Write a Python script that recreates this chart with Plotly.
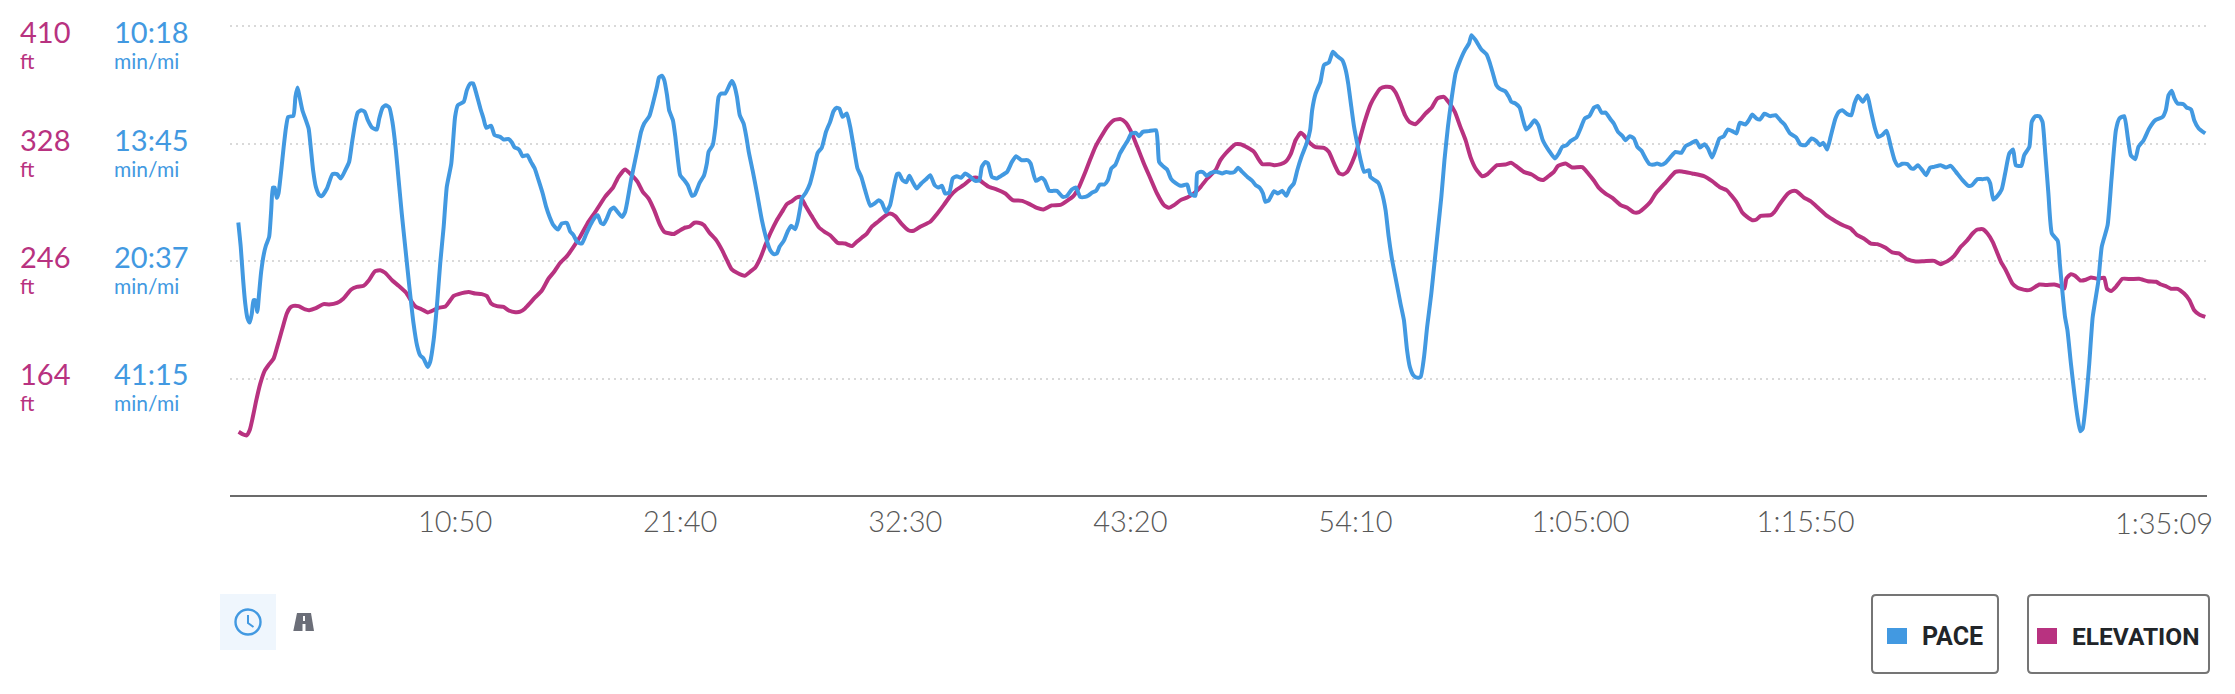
import plotly.graph_objects as go

# ---- axis labels -------------------------------------------------------
x_tick_seconds = [650, 1300, 1950, 2600, 3250, 3900, 4550]
x_tick_labels = ["10:50", "21:40", "32:30", "43:20", "54:10", "1:05:00", "1:15:50"]
x_end_seconds = 5709
x_end_label = "1:35:09"
elev_ticks = [410, 328, 246, 164]
elev_labels = ["410", "328", "246", "164"]
pace_ticks_mph = [5.825, 4.369, 2.913, 1.456]
pace_labels = ["10:18", "13:45", "20:37", "41:15"]

# ---- series ------------------------------------------------------------
pace_time = [
 24,31,38,44,50,57,63,68,73,79,84,90,98,104,113,119,124,129,135,140,148,155,162,168,183,189,195,200,209,227,233,240,248,258,265,280,296,309,320,333,344,352,362,369,379,389,398,410,424,431,441,450,460,469,479,487,496,507,518,530,540,549,559,571,578,588,598,607,617,626,639,650,658,675,684,694,702,710,723,732,740,754,764,780,790,805,814,822,
 830,836,845,859,869,880,891,903,913,923,934,947,958,973,982,992,1002,1016,1029,1043,1055,1062,1071,1079,1088,1098,1108,1119,1132,1141,1148,1158,1170,1180,1187,1196,1211,1220,1233,1239,1247,1254,1262,1268,1279,1286,1293,1300,1312,1322,1334,1342,1356,1369,1377,1382,1394,1402,1411,1418,1430,1440,1449,1456,1464,1472,1483,1491,1498,1509,1522,1536,1550,1560,1570,1579,1587,1599,1610,1620,1632,1639,1647,
 1651,1663,1675,1685,1697,1709,1721,1733,1743,1752,1760,1769,1781,1791,1801,1812,1823,1834,1849,1861,1873,1882,1894,1906,1916,1926,1932,1942,1953,1962,1971,1983,1996,2009,2022,2035,2046,2056,2065,2077,2087,2099,2111,2123,2138,2152,2164,2171,2181,2189,2200,2213,2227,2244,2258,2270,2285,2304,2312,2327,2343,2352,2366,2378,2388,2405,2417,2431,2443,2455,2470,
 2480,2490,2501,2512,2525,2535,2545,2557,2570,2581,2593,2603,2616,2625,2636,2653,2674,2679,2683,2694,2706,2718,2730,2745,2764,2772,2788,2793,2801,2810,2820,2833,2851,2865,2877,2889,2901,2911,2923,2938,2952,2962,2973,2983,2990,3000,3015,3026,3039,3050,3060,3072,3082,3094,3109,3119,3125,3135,3149,3159,3173,3185,3197,3212,3222,3229,3238,3246,3255,3265,3275,3289,
 3293,3303,3316,3327,3337,3346,3356,3368,3380,3390,3399,3407,3417,3428,3438,3448,3457,3469,3478,3488,3498,3507,3517,3527,3539,3549,3566,3578,3585,3597,3613,3628,3637,3647,3657,3667,3682,3693,3700,3712,3724,3734,3743,3756,3767,3778,3791,3809,3826,3838,3847,3860,3871,3888,3900,3912,3926,3939,3950,3961,3972,3987,3996,4008,4021,4030,4042,4054,4064,4076,4088,4099,4112,
 4121,4133,4145,4160,4174,4191,4203,4218,4234,4245,4258,4268,4280,4292,4301,4314,4325,4338,4350,4360,4376,4386,4396,4408,4418,4431,4447,4463,4478,4489,4505,4523,4535,4550,4567,4581,4591,4601,4612,4622,4636,4646,4656,4670,4682,4691,4701,4715,4728,4738,4749,4759,4771,4784,4795,4807,4817,4829,4844,4855,4863,4874,4887,4898,4909,4921,4940,
 4955,4969,4984,5003,5020,5030,5046,5061,5075,5083,5092,5104,5116,5126,5138,5149,5157,5173,5181,5196,5203,5213,5225,5234,5242,5251,5261,5278,5284,5292,5299,5306,5316,5326,5335,5343,5350,5359,5369,5379,5395,5405,5422,5433,5446,5456,5470,5480,5489,5502,5511,5526,5542,5560,5581,5590,5598,5607,5615,5624,5641,5650,5663,5672,5685,5704,
]
pace_mph = [
 3.389,3.088,2.674,2.385,2.211,2.149,2.261,2.426,2.426,2.282,2.509,2.778,3.005,3.108,3.212,3.542,3.823,3.823,3.695,3.749,4.038,4.327,4.575,4.699,4.712,4.947,5.063,4.968,4.782,4.555,4.327,4.038,3.831,3.728,3.716,3.811,3.989,3.989,3.935,4.038,4.141,4.369,4.637,4.753,4.782,4.761,4.658,4.567,4.542,4.679,4.815,4.844,4.815,4.637,4.286,3.914,3.501,3.046,2.592,2.137,1.868,1.744,1.703,1.600,1.662,1.930,2.385,2.881,3.336,3.831,4.121,4.699,4.844,4.885,5.030,5.113,5.113,5.009,4.803,4.679,4.563,4.588,4.472,4.451,4.418,4.423,4.381,4.319,
 4.307,4.286,4.212,4.224,4.141,4.059,3.914,3.749,3.583,3.459,3.356,3.302,3.377,3.385,3.282,3.232,3.150,3.129,3.253,3.377,3.459,3.480,3.385,3.369,3.439,3.542,3.575,3.521,3.459,3.521,3.666,3.914,4.162,4.369,4.513,4.617,4.708,4.844,5.071,5.187,5.208,5.154,4.968,4.782,4.658,4.451,4.183,3.976,3.914,3.852,3.720,3.736,3.881,3.976,4.121,4.265,4.348,4.575,4.947,4.989,4.989,5.071,5.142,5.092,4.947,4.720,4.617,4.451,4.265,4.038,3.749,3.418,3.170,3.046,2.997,3.005,3.088,3.162,3.274,3.348,3.307,3.398,3.583,
 3.687,3.761,3.873,4.038,4.253,4.319,4.513,4.637,4.770,4.811,4.799,4.699,4.741,4.575,4.327,4.059,3.955,3.790,3.596,3.625,3.666,3.637,3.521,3.604,3.811,3.989,3.997,3.914,3.889,3.968,3.894,3.811,3.873,3.922,3.976,3.852,3.823,3.844,3.749,3.761,3.935,3.964,3.943,3.997,3.955,3.906,3.914,4.079,4.141,4.121,3.955,3.935,3.968,4.017,4.141,4.212,4.162,4.162,4.121,3.906,3.943,3.914,3.782,3.782,3.782,3.707,3.720,3.798,3.823,3.707,3.707,
 3.728,3.761,3.782,3.860,3.860,3.914,4.059,4.108,4.245,4.327,4.410,4.493,4.501,4.460,4.513,4.522,4.534,4.369,4.141,4.088,4.046,3.927,3.881,3.844,3.860,3.749,3.720,3.997,4.017,4.013,3.968,4.005,4.017,3.997,4.017,4.005,4.017,4.067,4.017,3.955,3.906,3.852,3.823,3.749,3.646,3.666,3.778,3.749,3.782,3.720,3.811,3.873,4.038,4.203,4.369,4.534,4.782,4.989,5.133,5.340,5.373,5.505,5.452,5.402,5.278,5.113,4.823,4.575,4.369,4.162,4.017,4.038,
 3.955,3.922,3.881,3.749,3.542,3.212,2.922,2.654,2.385,2.178,1.806,1.600,1.496,1.467,1.476,1.724,2.096,2.509,2.881,3.294,3.707,4.162,4.575,4.906,5.237,5.361,5.526,5.609,5.712,5.650,5.538,5.476,5.381,5.237,5.092,5.047,5.018,4.947,4.885,4.865,4.815,4.658,4.542,4.596,4.658,4.596,4.410,4.278,4.183,4.253,4.327,4.348,4.398,4.443,4.555,4.679,4.712,4.815,4.832,4.749,4.753,4.666,4.617,4.513,4.460,4.410,4.460,4.431,4.327,4.278,4.183,4.113,4.108,
 4.121,4.104,4.129,4.203,4.265,4.253,4.336,4.369,4.402,4.319,4.361,4.307,4.195,4.327,4.431,4.460,4.542,4.522,4.493,4.625,4.604,4.658,4.728,4.679,4.666,4.737,4.708,4.720,4.650,4.604,4.493,4.443,4.356,4.348,4.431,4.398,4.348,4.377,4.294,4.451,4.679,4.761,4.782,4.733,4.720,4.865,4.960,4.885,4.968,4.782,4.575,4.451,4.472,4.526,4.348,4.162,4.092,4.117,4.113,4.059,4.059,4.100,4.038,3.976,4.067,4.079,4.100,
 4.071,4.092,4.017,3.914,3.844,3.852,3.927,3.927,3.935,3.873,3.674,3.720,3.798,3.997,4.245,4.294,4.100,4.092,4.224,4.327,4.637,4.708,4.708,4.637,4.245,3.749,3.253,3.162,2.881,2.509,2.220,2.054,1.641,1.269,0.980,0.802,0.835,1.145,1.641,2.220,2.654,3.088,3.356,3.914,4.534,4.679,4.708,4.451,4.224,4.175,4.327,4.410,4.555,4.658,4.699,4.782,4.968,5.022,4.927,4.865,4.856,4.815,4.790,4.658,4.555,4.493,
]
elev_time = [
 25,36,48,57,65,75,87,100,111,126,135,150,164,174,183,198,217,229,248,270,286,309,328,350,366,386,400,419,434,448,468,487,508,525,537,554,571,588,602,622,633,646,660,689,708,727,742,754,771,790,805,824,
 838,852,867,881,900,920,936,952,973,992,1011,1032,1055,1083,1106,1122,1141,1160,1177,1192,1209,1225,1242,1254,1281,1300,1315,1326,1341,1353,1369,1384,1404,1421,1435,1449,1464,1486,1502,1517,1531,1546,1560,1579,1594,1608,1623,1635,1647,
 1661,1680,1701,1717,1733,1755,1776,1796,1810,1825,1839,1853,1873,1894,1906,1921,1940,1959,1974,1993,2022,2041,2061,2080,2099,2118,2142,2157,2171,2191,2215,2239,2260,2287,2306,2330,2349,2373,2398,2417,2436,2451,2470,
 2485,2499,2514,2533,2552,2572,2586,2600,2620,2639,2658,2677,2697,2711,2726,2745,2764,2783,2803,2822,2846,2860,2875,2889,2904,2918,2938,2957,2971,2981,3003,3015,3034,3048,3063,3077,3092,3101,3120,3135,3159,3173,3188,3202,3214,3226,3241,3255,3275,3294,
 3308,3322,3337,3354,3366,3380,3393,3406,3423,3438,3452,3470,3486,3505,3520,3537,3553,3568,3582,3597,3616,3631,3645,3659,3683,3700,3717,3736,3759,3780,3794,3809,3823,3835,3857,3876,3905,3922,3939,3953,3972,3992,4016,4035,4054,4069,4088,4102,4117,
 4145,4174,4193,4222,4256,4280,4304,4322,4350,4367,4381,4396,4408,4420,4449,4460,4473,4499,4511,4523,4545,4564,4588,4612,4636,4661,4680,4699,4718,4738,4757,4781,4800,4819,4844,4868,4892,4921,4940,
 4945,4960,4979,4998,5017,5032,5046,5061,5075,5090,5104,5114,5128,5147,5162,5186,5200,5225,5244,5268,5282,5297,5303,5316,5328,5343,5359,5374,5393,5412,5420,5432,5446,5465,5489,5513,5538,5562,5576,5590,5605,5624,5643,5658,5672,5687,5704,
]
elev_ft = [
 126.8,125.2,124.3,128.0,136.1,147.8,160.1,169.4,173.3,178.0,185.0,197.8,209.4,213.6,214.7,214.5,212.2,211.7,213.1,215.9,215.7,216.8,219.9,226.1,228.0,228.7,232.2,238.9,239.6,237.8,232.6,228.7,224.0,217.5,214.0,212.2,210.1,211.7,213.3,214.3,217.5,221.7,222.9,224.3,223.3,222.9,221.5,216.4,214.5,214.0,211.5,210.3,
 210.6,212.9,216.8,220.6,225.2,233.8,238.5,244.3,249.4,255.9,262.9,272.2,280.3,290.8,297.3,304.8,309.9,305.9,301.2,294.3,289.6,281.5,271.0,266.4,264.8,267.5,269.4,269.9,272.7,272.7,271.0,265.9,260.6,253.6,246.6,240.1,237.8,235.7,238.5,241.5,247.8,257.1,265.2,274.5,280.3,285.7,287.8,290.1,290.8,
 285.0,277.3,269.4,266.4,264.0,258.7,258.2,256.4,259.4,262.4,265.2,269.9,273.8,278.0,279.2,277.3,271.7,267.5,267.1,269.9,273.4,278.7,285.0,291.5,295.9,298.9,303.6,304.1,301.2,297.8,295.9,293.1,288.5,288.0,286.1,283.1,282.0,284.8,285.2,288.0,291.5,297.3,308.2,
 317.5,325.7,332.2,339.6,344.3,345.0,342.7,337.3,325.7,314.1,303.6,293.1,285.0,283.1,285.0,288.5,290.3,293.1,297.8,303.6,309.4,316.4,321.0,324.5,327.5,327.5,325.2,322.2,316.8,313.6,313.6,312.9,313.6,315.2,320.6,330.3,335.5,333.8,328.0,325.5,325.0,322.2,314.1,307.5,306.4,308.2,315.2,324.5,342.0,355.5,
 361.7,366.4,367.6,367.1,363.6,355.9,347.8,343.1,341.5,344.8,348.9,352.9,359.4,360.6,356.6,350.1,339.6,330.3,318.7,310.6,305.2,306.6,309.9,312.9,313.4,314.5,311.7,308.2,306.4,303.1,302.7,305.5,308.2,312.4,314.1,311.3,311.5,307.1,302.0,297.1,293.1,290.1,285.0,283.1,279.9,280.1,283.8,287.3,293.1,
 300.6,308.2,308.5,307.1,305.2,301.7,297.3,295.4,287.3,279.9,276.8,274.5,275.0,277.5,278.0,280.3,285.0,293.1,294.8,294.8,290.3,287.8,282.7,277.5,273.8,270.6,268.7,264.0,261.7,258.2,257.8,255.2,252.0,251.3,247.1,245.7,245.9,246.1,243.8,
 244.3,245.9,249.6,255.9,260.6,265.2,268.0,268.2,265.2,259.4,251.3,245.4,239.6,230.3,227.3,225.7,226.1,229.6,229.2,229.6,228.7,226.8,233.8,236.8,235.7,232.4,232.9,234.5,233.6,234.3,226.8,225.0,228.0,233.6,233.4,233.6,231.9,231.5,229.6,228.5,226.6,226.6,223.3,218.8,211.7,208.6,207.0,
]
assert len(pace_time) == len(pace_mph), (len(pace_time), len(pace_mph))
assert len(elev_time) == len(elev_ft), (len(elev_time), len(elev_ft))

# ---- style -------------------------------------------------------------
W, H = 2235, 694
L, R, T, B = 230, 2207, 16, 495
BLUE, PINK = "#4299e1", "#b83280"
FONT = "Lato"
LEGEND_FONT = "Roboto"
AXIS_TEXT = "#585858"

def px(x):
    return (x - L) / (R - L)

def py(y):
    return 1 - (y - T) / (B - T)

fig = go.Figure()
fig.add_trace(go.Scatter(x=pace_time, y=pace_mph, name="PACE", yaxis="y2", mode="lines",
                         line=dict(color=BLUE, width=4, shape="spline", smoothing=0.5),
                         hoverinfo="skip"))
fig.add_trace(go.Scatter(x=elev_time, y=elev_ft, name="ELEVATION", yaxis="y", mode="lines",
                         line=dict(color=PINK, width=4, shape="spline", smoothing=0.5),
                         hoverinfo="skip"))

annotations = []
label_shift = [-5, 4.5, 4.5, 5]
for value, mph, elev_text, pace_text, shift in zip(elev_ticks, pace_ticks_mph, elev_labels, pace_labels, label_shift):
    for xpos, main, unit, color in ((20, elev_text, "ft", PINK), (114, pace_text, "min/mi", BLUE)):
        annotations.append(dict(xref="paper", yref="y", x=px(xpos), y=value, text=main, showarrow=False,
                                xanchor="left", yanchor="middle", yshift=shift, borderpad=0, borderwidth=0,
                                font=dict(family=FONT, size=29, color=color)))
        annotations.append(dict(xref="paper", yref="y", x=px(xpos), y=value, text=unit, showarrow=False,
                                xanchor="left", yanchor="middle", yshift=shift - 29, borderpad=0, borderwidth=0,
                                font=dict(family=FONT, size=21, color=color)))

annotations.append(dict(xref="x", yref="paper", x=x_end_seconds, y=0, text=x_end_label, showarrow=False,
                        xanchor="right", yanchor="top", xshift=8, yshift=-8,
                        font=dict(family=FONT, size=29, color=AXIS_TEXT, weight=300)))
annotations.append(dict(xref="paper", yref="paper", x=px(1921), y=py(636), text="<b>PACE</b>", showarrow=False,
                        xanchor="left", yanchor="middle", borderpad=0,
                        font=dict(family=LEGEND_FONT, size=25, color="#212529")))
annotations.append(dict(xref="paper", yref="paper", x=px(2071), y=py(636), text="<b>ELEVATION</b>", showarrow=False,
                        xanchor="left", yanchor="middle", borderpad=0,
                        font=dict(family=LEGEND_FONT, size=24.5, color="#212529")))

def rect(x0, y0, x1, y1, **kw):
    return dict(type="rect", xref="paper", yref="paper", x0=px(x0), x1=px(x1), y0=py(y0), y1=py(y1), **kw)

def path(points, close=True, **kw):
    d = "M " + " L ".join(f"{px(a):.5f} {py(b):.5f}" for a, b in points) + (" Z" if close else "")
    return dict(type="path", xref="paper", yref="paper", path=d, **kw)

def rrect(x0, y0, x1, y1, r, **kw):
    d = (f"M {px(x0+r):.5f} {py(y0):.5f} L {px(x1-r):.5f} {py(y0):.5f} "
         f"Q {px(x1):.5f} {py(y0):.5f} {px(x1):.5f} {py(y0+r):.5f} L {px(x1):.5f} {py(y1-r):.5f} "
         f"Q {px(x1):.5f} {py(y1):.5f} {px(x1-r):.5f} {py(y1):.5f} L {px(x0+r):.5f} {py(y1):.5f} "
         f"Q {px(x0):.5f} {py(y1):.5f} {px(x0):.5f} {py(y1-r):.5f} L {px(x0):.5f} {py(y0+r):.5f} "
         f"Q {px(x0):.5f} {py(y0):.5f} {px(x0+r):.5f} {py(y0):.5f} Z")
    return dict(type="path", xref="paper", yref="paper", path=d, **kw)

none = dict(width=0)
shapes = [
    rect(220, 594, 276, 650, fillcolor="#eff6fd", line=none),
    dict(type="circle", xref="paper", yref="paper", x0=px(235.5), x1=px(260.5), y0=py(609.5), y1=py(634.5),
         line=dict(color=BLUE, width=2.4)),
    path([(248, 615), (248, 623), (253.5, 627)], close=False, line=dict(color=BLUE, width=2)),
    path([(293.3, 631), (297, 613), (311, 613), (314, 631)], fillcolor="#6b6e78", line=none),
    rect(303, 616, 305, 621, fillcolor="white", line=none),
    rect(302.5, 624, 305.5, 631, fillcolor="white", line=none),
    rrect(1872, 595, 1998, 673, 4, line=dict(color="#757575", width=2), fillcolor="white", layer="below"),
    rrect(2028, 595, 2209, 673, 4, line=dict(color="#757575", width=2), fillcolor="white", layer="below"),
    rect(1887, 628, 1907, 644, fillcolor=BLUE, line=none),
    rect(2037, 628, 2057, 644, fillcolor=PINK, line=none),
]

fig.update_layout(
    width=W, height=H, autosize=False, showlegend=False,
    margin=dict(l=L, r=W - R, t=T, b=H - B),
    paper_bgcolor="white", plot_bgcolor="white",
    annotations=annotations, shapes=shapes,
    xaxis=dict(range=[0, x_end_seconds], tickmode="array", tickvals=x_tick_seconds, ticktext=x_tick_labels,
               showgrid=False, zeroline=False, showline=True, linecolor="#6b6b6b", linewidth=2,
               ticks="", tickfont=dict(family=FONT, size=29, color=AXIS_TEXT, weight=300)),
    yaxis=dict(range=[82.7, 417], tickmode="array", tickvals=elev_ticks, showticklabels=False, ticks="",
               showgrid=True, gridcolor="#d9d9d9", gridwidth=2, griddash="2px,4px", zeroline=False, showline=False),
    yaxis2=dict(range=[0.0124, 5.949], overlaying="y", side="left", tickmode="array", tickvals=pace_ticks_mph,
                showticklabels=False, ticks="", showgrid=False, zeroline=False, showline=False),
)
fig.write_html("out.html", config=dict(displayModeBar=False),
               post_script="document.body.style.margin='0';document.body.style.overflow='hidden';")
